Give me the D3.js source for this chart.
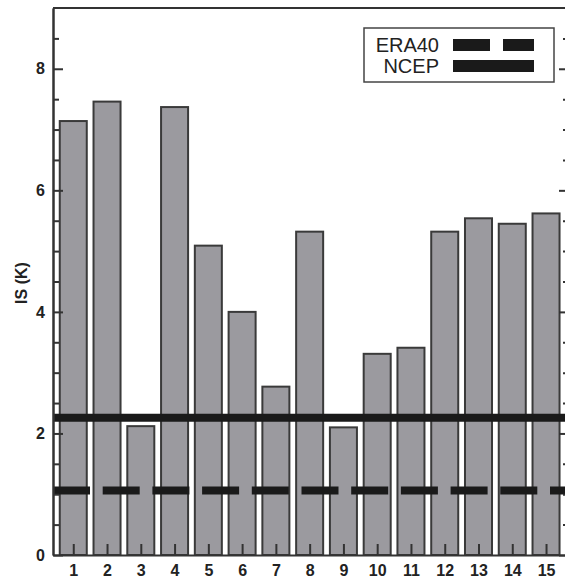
<!DOCTYPE html>
<html>
<head>
<meta charset="utf-8">
<script src="https://cdn.jsdelivr.net/npm/d3@7"></script>
<style>
  body { margin: 0; background: #fff; }
  svg { display: block; }
  .axis text { font-family: "Liberation Sans", Arial, sans-serif; font-weight: bold; font-size: 16px; fill: #222; }
  .axis path, .axis line { stroke: #333; stroke-width: 2; }
</style>
</head>
<body>
<svg id="chart" width="565" height="580"></svg>
<script>
// data
var categories = [1, 2, 3, 4, 5, 6, 7, 8, 9, 10, 11, 12, 13, 14, 15];
var isValues = [7.14, 7.46, 2.12, 7.37, 5.09, 4.0, 2.77, 5.32, 2.10, 3.31, 3.41, 5.32, 5.54, 5.45, 5.62];
var ncepLevel = 2.26;
var era40Level = 1.06;
var majorTicks = [0, 2, 4, 6, 8];
var minorTicks = [0.5, 1, 1.5, 2.5, 3, 3.5, 4.5, 5, 5.5, 6.5, 7, 7.5, 8.5];
var legendNames = ['ERA40', 'NCEP'];

var svg = d3.select('#chart'),
    plot = {left: 53, right: 569, top: 8, bottom: 555};

var x = d3.scaleLinear().domain([0.4, 15.68]).range([plot.left, plot.right]),
    y = d3.scaleLinear().domain([0, 9]).range([plot.bottom, plot.top]),
    barW = x(0.8) - x(0);

// bars
svg.append('g').selectAll('rect')
    .data(categories)
    .enter().append('rect')
        .attr('x', function(d) { return x(d) - barW / 2; })
        .attr('y', function(d, i) { return y(isValues[i]); })
        .attr('width', barW)
        .attr('height', function(d, i) { return y(0) - y(isValues[i]); })
        .attr('fill', '#9b9a9f')
        .attr('stroke', '#3a3a3a')
        .attr('stroke-width', 2);

// reference levels
svg.append('line')
    .attr('x1', plot.left).attr('x2', plot.right)
    .attr('y1', y(ncepLevel)).attr('y2', y(ncepLevel))
    .attr('stroke', '#1a1a1a').attr('stroke-width', 8);

svg.append('line')
    .attr('x1', plot.left).attr('x2', plot.right)
    .attr('y1', y(era40Level)).attr('y2', y(era40Level))
    .attr('stroke', '#1a1a1a').attr('stroke-width', 8)
    .attr('stroke-dasharray', '37,12.7');

// axes
svg.append('g')
    .attr('class', 'axis')
    .attr('transform', 'translate(' + plot.left + ',0)')
    .call(d3.axisLeft(y).tickValues(majorTicks).tickSizeInner(-10).tickSizeOuter(0).tickPadding(8));

svg.append('g')
    .attr('class', 'axis')
    .attr('transform', 'translate(' + plot.left + ',0)')
    .call(d3.axisLeft(y).tickValues(minorTicks).tickSizeInner(-6).tickSizeOuter(0).tickFormat(''));

svg.append('g')
    .attr('class', 'axis')
    .attr('transform', 'translate(' + plot.right + ',0)')
    .call(d3.axisRight(y).tickValues(majorTicks).tickSizeInner(-10).tickSizeOuter(0).tickFormat(''));

svg.append('g')
    .attr('class', 'axis')
    .attr('transform', 'translate(' + plot.right + ',0)')
    .call(d3.axisRight(y).tickValues(minorTicks).tickSizeInner(-6).tickSizeOuter(0).tickFormat(''));

svg.append('g')
    .attr('class', 'axis')
    .attr('transform', 'translate(0,' + plot.bottom + ')')
    .call(d3.axisBottom(x).tickValues(categories).tickSizeInner(-11).tickSizeOuter(0).tickPadding(10).tickFormat(d3.format('d')));

// top frame
svg.append('line')
    .attr('x1', plot.left).attr('x2', plot.right)
    .attr('y1', plot.top).attr('y2', plot.top)
    .attr('stroke', '#333').attr('stroke-width', 2);

// y label
svg.append('text')
    .attr('transform', 'translate(27,283) rotate(-90)')
    .attr('text-anchor', 'middle')
    .style('font-family', '"Liberation Sans", Arial, sans-serif')
    .style('font-weight', 'bold')
    .style('font-size', '16px')
    .style('fill', '#222')
    .text('IS (K)');

// legend
var lg = svg.append('g');
lg.append('rect')
    .attr('x', 364).attr('y', 28).attr('width', 190).attr('height', 54)
    .attr('fill', '#fff').attr('stroke', '#444').attr('stroke-width', 1.5);

lg.selectAll('text')
    .data(legendNames)
    .enter().append('text')
        .attr('x', 439)
        .attr('y', function(d, i) { return 52 + i * 21; })
        .attr('text-anchor', 'end')
        .style('font-family', '"Liberation Sans", Arial, sans-serif')
        .style('font-size', '20px')
        .style('fill', '#222')
        .text(function(d) { return d; });

lg.append('line')
    .attr('x1', 453).attr('x2', 534).attr('y1', 45).attr('y2', 45)
    .attr('stroke', '#1a1a1a').attr('stroke-width', 12)
    .attr('stroke-dasharray', '37,13');

lg.append('line')
    .attr('x1', 453).attr('x2', 534).attr('y1', 66).attr('y2', 66)
    .attr('stroke', '#1a1a1a').attr('stroke-width', 12);
</script>
</body>
</html>
